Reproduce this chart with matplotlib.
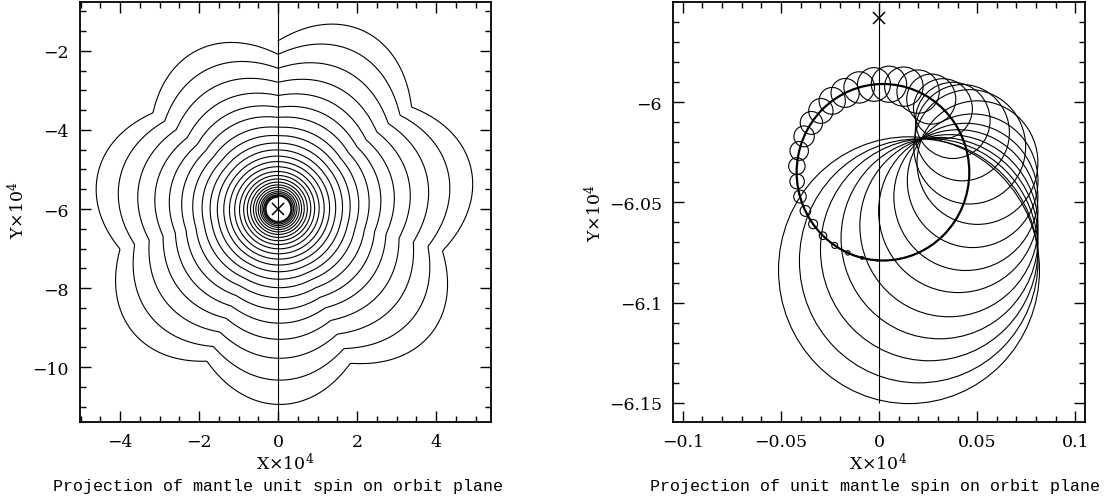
import numpy as np
import matplotlib.pyplot as plt
from matplotlib.patches import Circle
from matplotlib.ticker import MultipleLocator, FuncFormatter

plt.rcParams['font.family'] = ['DejaVu Serif']
plt.rcParams['mathtext.fontset'] = 'dejavuserif'
plt.rcParams['font.size'] = 12

# ---- left panel: spiral of the mantle spin (one entry per turn)
n_lobes = 7
spiral_x0 = 0.0
turn_cy = [-6.12, -6.09, -6.06, -6.04, -6.02, -6.01, -6.0, -6.0, -6.0, -6.0,
           -6.0, -6.0, -6.0, -6.0, -6.0, -6.0, -6.0, -6.0, -6.0, -6.0,
           -6.0, -6.0, -6.0, -6.0, -6.0, -6.0]
turn_lobe_r = [5.15, 4.55, 3.98, 3.49, 3.06, 2.70, 2.39, 2.11, 1.88, 1.68,
               1.50, 1.34, 1.20, 1.07, 0.95, 0.85, 0.76, 0.68, 0.61, 0.55,
               0.49, 0.44, 0.40, 0.36, 0.33, 0.30]
turn_notch = [0.15, 0.12, 0.09, 0.07, 0.055, 0.042, 0.03, 0.02, 0.012, 0.007,
              0.003, 0.001, 0, 0, 0, 0, 0, 0, 0, 0,
              0, 0, 0, 0, 0, 0]
cross_left = (0.0, -6.0)

# ---- right panel: guide circle + loops
# loop centre given as angle (deg) and distance from the guide centre, plus loop radius
guide_centre = (0.002, -6.035)
guide_r = 0.044
loop_angle = [266, 256, 246, 236, 226, 216, 206, 196, 186, 176,
              166, 156, 146, 136, 126, 116, 106, 96, 86, 76,
              66, 56, 46, 36, 26, 16, 5.7, -5.3, -16.2, -26.8,
              -38.4, -48.7, -58.6, -67.6, -74.8]
loop_dist = [0.044, 0.044, 0.044, 0.044, 0.044, 0.044, 0.044, 0.044, 0.044, 0.044,
             0.044, 0.044, 0.044, 0.044, 0.044, 0.044, 0.044, 0.044, 0.044, 0.044,
             0.044, 0.044, 0.044, 0.044, 0.045, 0.046, 0.0484, 0.0459, 0.044, 0.043,
             0.0429, 0.0437, 0.0452, 0.0478, 0.0506]
loop_r = [0.0004, 0.0007, 0.0011, 0.0015, 0.0019, 0.0023, 0.0027, 0.0032, 0.0037, 0.0042,
          0.0047, 0.0052, 0.0057, 0.0062, 0.0067, 0.0072, 0.0078, 0.0084, 0.0090, 0.0098,
          0.0108, 0.0125, 0.015, 0.019, 0.024, 0.0285, 0.0308, 0.0333, 0.0367, 0.0406,
          0.0454, 0.0502, 0.0554, 0.0608, 0.0665]
cross_right = (0.0, -5.958)

caption_left = 'Projection of mantle unit spin on orbit plane'
caption_right = 'Projection of unit mantle spin on orbit plane'


def minus_fmt(v, pos):
    s = '%g' % round(v, 4)
    return s.replace('-', '\u2212')


def style(ax):
    for sp in ax.spines.values():
        sp.set_linewidth(1.3)
    ax.tick_params(which='both', direction='in', top=True, right=True,
                   labelsize=12.5, pad=8)
    ax.tick_params(which='major', length=8, width=1.0)
    ax.tick_params(which='minor', length=4, width=1.0)
    ax.xaxis.set_major_formatter(FuncFormatter(minus_fmt))
    ax.yaxis.set_major_formatter(FuncFormatter(minus_fmt))


fig = plt.figure(figsize=(11.09, 5.02), dpi=100)
ax1 = fig.add_axes([0.0721, 0.1574, 0.3706, 0.8367])
ax2 = fig.add_axes([0.6069, 0.1574, 0.3715, 0.8367])

# left: spiral, clockwise from the top
k = np.arange(len(turn_lobe_r))
s = np.linspace(0, k[-1], 720 * k[-1] + 1)
L = np.exp(np.interp(s, k, np.log(turn_lobe_r)))
d = np.interp(s, k, turn_notch)
cy = np.interp(s, k, turn_cy)
th = np.deg2rad(90 - 360 * s)
phi = th - np.pi / 2
r = L * (1 - d * (1 - np.abs(np.sin(n_lobes * phi / 2))))
ax1.plot(spiral_x0 + r * np.cos(th), cy + r * np.sin(th), color='black', lw=0.8)
ax1.axvline(0, color='black', lw=0.8)
ax1.plot(*cross_left, marker='x', color='black', ms=8, mew=1.1)
ax1.set_xlim(-5.02, 5.39)
ax1.set_ylim(-11.39, -0.76)
ax1.set_xticks([-4, -2, 0, 2, 4])
ax1.set_yticks([-10, -8, -6, -4, -2])
ax1.xaxis.set_minor_locator(MultipleLocator(0.5))
ax1.yaxis.set_minor_locator(MultipleLocator(0.5))
style(ax1)

# right: guide circle and loops
ax2.add_patch(Circle(guide_centre, guide_r, fill=False, color='black', lw=1.6))
for a, dist, rr in zip(loop_angle, loop_dist, loop_r):
    cx = guide_centre[0] + dist * np.cos(np.deg2rad(a))
    cyl = guide_centre[1] + dist * np.sin(np.deg2rad(a))
    ax2.add_patch(Circle((cx, cyl), rr, fill=False, color='black', lw=0.8))
ax2.vlines(0, -6.15, -5.9501, color='black', lw=0.8)
ax2.plot(*cross_right, marker='x', color='black', ms=9, mew=1.1)
ax2.set_xlim(-0.105, 0.105)
ax2.set_ylim(-6.1595, -5.9501)
ax2.set_xticks([-0.1, -0.05, 0, 0.05, 0.1])
ax2.set_yticks([-6.15, -6.1, -6.05, -6])
ax2.xaxis.set_minor_locator(MultipleLocator(0.01))
ax2.yaxis.set_minor_locator(MultipleLocator(0.01))
style(ax2)

# labels
fig.text(0.257, 0.0757, 'X\u00d710$^4$', ha='center', va='center', fontsize=12.5)
fig.text(0.7917, 0.0757, 'X\u00d710$^4$', ha='center', va='center', fontsize=12.5)
fig.text(0.0162, 0.582, 'Y\u00d710$^4$', ha='center', va='center', rotation=90,
         fontsize=12.5)
fig.text(0.536, 0.576, 'Y\u00d710$^4$', ha='center', va='center', rotation=90,
         fontsize=12.5)
fig.text(0.2507, 0.030, caption_left, ha='center', va='center',
         family=['Liberation Mono'], fontsize=12)
fig.text(0.789, 0.030, caption_right, ha='center', va='center',
         family=['Liberation Mono'], fontsize=12)

fig.savefig('out.png', dpi=100)
